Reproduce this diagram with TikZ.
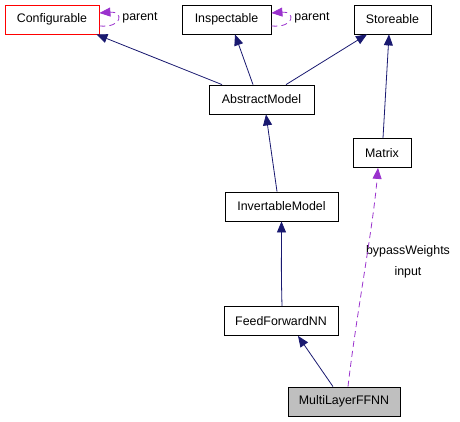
\documentclass[tikz,border=0pt]{standalone}
\usepackage{fontspec}
\setmainfont{Liberation Sans}
\usetikzlibrary{arrows.meta}
\definecolor{edgeblue}{HTML}{191970}
\definecolor{edgepurple}{HTML}{9A32CD}
\begin{document}
\begin{tikzpicture}[x=1pt, y=-1pt,
    font=\fontsize{12.4}{14}\selectfont,
    cls/.style={draw=black, fill=white, line width=0.8pt, inner sep=0pt, minimum height=29pt},
    inherit/.style={draw=edgeblue, line width=0.8pt, -{Triangle[length=11pt, width=9pt]}},
    usage/.style={draw=edgepurple, line width=0.8pt, dash pattern=on 6pt off 4pt, -{Triangle[length=11pt, width=9pt]}}]
    \useasboundingbox (0,0) rectangle (460,421);
    % top row
    \node[cls, draw=red, minimum width=94pt] (configurable) at (52,19.5) {Configurable};
    \node[cls, minimum width=89pt] (inspectable) at (226.5,19.5) {Inspectable};
    \node[cls, minimum width=77pt] (storeable) at (392.5,19.5) {Storeable};
    % middle
    \node[cls, minimum width=105pt] (abstract) at (261.5,99.5) {AbstractModel};
    \node[cls, minimum width=58pt] (matrix) at (382,153) {Matrix};
    \node[cls, minimum width=113pt] (invertable) at (281.5,206.5) {InvertableModel};
    \node[cls, minimum width=114pt] (feedforward) at (281,321) {FeedForwardNN};
    \node[cls, fill=black!25, minimum width=112pt] (multilayer) at (344,401.5) {MultiLayerFFNN};
    % labels
    \node (confparent) at (140,18) {parent};
    \node (inspparent) at (312,18) {parent};
    \node (bypass) at (408,251) {bypassWeights};
    \node (input) at (408,272) {input};
    % self loops
    \draw[usage] ([yshift=-6.5pt]configurable.east) .. controls +(24,2) and +(24,-2) .. ([yshift=6.5pt]configurable.east);
    \draw[usage] ([yshift=-6.5pt]inspectable.east) .. controls +(24,2) and +(24,-2) .. ([yshift=6.5pt]inspectable.east);
    % inheritance
    \draw[inherit] ([xshift=-39.5pt]abstract.north) -- ([xshift=-3pt]configurable.south east);
    \draw[inherit] ([xshift=-8.5pt]abstract.north) -- ([xshift=8.5pt]inspectable.south);
    \draw[inherit] ([xshift=24.5pt]abstract.north) -- ([xshift=-25.5pt]storeable.south);
    \draw[inherit] ([xshift=1pt]matrix.north) -- ([xshift=-3.5pt]storeable.south);
    \draw[inherit] ([xshift=-4.5pt]invertable.north) -- ([xshift=4.5pt]abstract.south);
    \draw[inherit] ([xshift=1pt]feedforward.north) .. controls +(-1,-40) and +(0,40) .. (invertable.south);
    \draw[inherit] ([xshift=-11pt]multilayer.north) -- ([xshift=17pt]feedforward.south);
    % usage
    \draw[usage] ([xshift=4pt]multilayer.north) .. controls +(8,-70) and +(-5,60) .. ([xshift=-4pt]matrix.south);
\end{tikzpicture}
\end{document}
